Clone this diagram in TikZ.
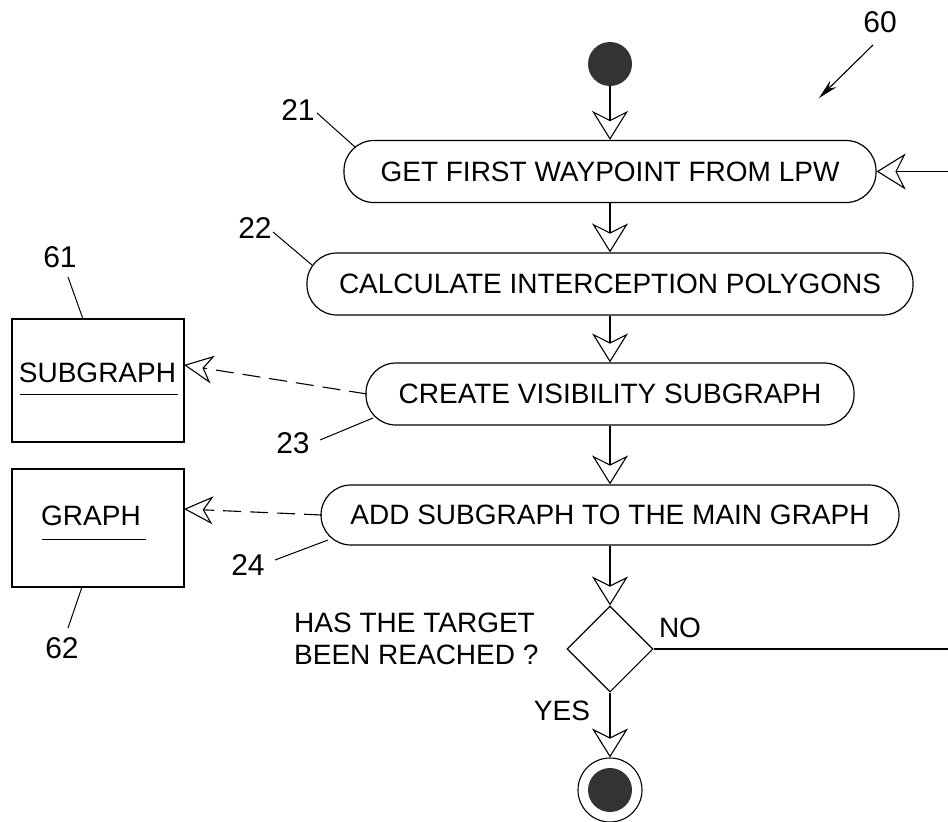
\documentclass[tikz,border=0pt]{standalone}
\usepackage{fontspec}
\setmainfont{Liberation Sans}
\usetikzlibrary{arrows.meta,shapes.geometric,calc}
\begin{document}
\begin{tikzpicture}[x=1pt,y=-1pt,
  every node/.style={font=\fontsize{28}{32}\selectfont, inner sep=0pt},
  pill/.style={draw, line width=1.2pt, rounded corners=30pt, minimum height=62pt},
  flow/.style={line width=1.1pt, -{Stealth[open, length=29pt, width=36pt, inset=9pt, line width=1.1pt]}},
  depend/.style={line width=1.1pt, dash pattern=on 18pt off 9pt, -{Stealth[open, length=29pt, width=28pt, inset=9pt, line width=1.1pt]}},
  plain/.style={line width=1.1pt},
  lead/.style={line width=1pt},
  store/.style={draw, line width=1.1pt, minimum width=172pt},
  refnum/.style={font=\fontsize{30}{32}\selectfont},
  dot/.style={circle, fill=black!80, minimum size=44pt}
]
\useasboundingbox (0,0) rectangle (948,822);

% flow nodes
\node[dot] (start) at (610,64) {};
\node[pill, minimum width=532pt] (b21) at (610,171.5) {GET FIRST WAYPOINT FROM LPW};
\node[pill, minimum width=606pt] (b22) at (610,284) {CALCULATE INTERCEPTION POLYGONS};
\node[pill, minimum width=488pt] (b23) at (610,394) {CREATE VISIBILITY SUBGRAPH};
\node[pill, minimum width=578pt, minimum height=60pt] (b24) at (610,515) {ADD SUBGRAPH TO THE MAIN GRAPH};
\node[diamond, draw, line width=1.1pt, minimum width=86pt, minimum height=86pt, aspect=1] (dec) at (610,649) {};
\node[circle, draw, line width=1.1pt, minimum size=64pt] (stop) at (610,790) {};
\node[dot] (stopin) at (610,790) {};

% stores
\node[store, minimum height=123pt] (s61) at (98,380.5) {};
\node[store, minimum height=118pt] (s62) at (98,528) {};
\node (t61) at (97.5,373) {SUBGRAPH};
\node (t62) at (91,516) {GRAPH};
\coordinate (u61a) at (20,394);
\coordinate (u61b) at (178,394);
\coordinate (u62a) at (42,539);
\coordinate (u62b) at (146,539);
\draw[lead] (u61a) -- (u61b);
\draw[lead] (u62a) -- (u62b);

% decision texts
\node[anchor=west, align=left] (q) at (294,639) {HAS THE TARGET\\BEEN REACHED ?};
\node (no) at (680,628) {NO};
\node (yes) at (562,711) {YES};

% connectors
\draw[flow] (start) -- (b21);
\draw[flow] (b21) -- (b22);
\draw[flow] (b22) -- (b23);
\draw[flow] (b23) -- (b24);
\draw[flow] (b24) -- (dec);
\draw[flow] (dec) -- (stop);
\coordinate (noend) at (948,649);
\coordinate (loopin) at (948,171.5);
\draw[plain] (dec.east) -- (noend);
\draw[flow] (loopin) -- (b21.east);

\coordinate (h61) at (184,365);
\coordinate (h62) at (184,509);
\coordinate (f23) at (367,394);
\coordinate (f24) at (322,515);
\draw[depend] (f23) -- (h61);
\draw[depend] (f24) -- (h62);

% reference numerals
\node[refnum] (n60) at (880,22) {60};
\coordinate (a60s) at (873,45);
\coordinate (a60e) at (819,98);
\draw[line width=1.1pt, -{Stealth[length=20pt, width=9pt]}] (a60s) -- (a60e);

\node[refnum] (n21) at (298,110) {21};
\coordinate (l21) at (355,147);
\draw[lead] (317,113) -- (l21);

\node[refnum] (n22) at (255,228) {22};
\coordinate (l22) at (312,265);
\draw[lead] (273,232) -- (l22);

\node[refnum] (n23) at (293,443) {23};
\coordinate (l23) at (373,418);
\draw[lead] (320,440) -- (l23);

\node[refnum] (n24) at (248,565) {24};
\coordinate (l24) at (328,540);
\draw[lead] (275,560) -- (l24);

\node[refnum] (n61) at (60,257) {61};
\coordinate (l61) at (83,319);
\draw[lead] (68,277) -- (l61);

\node[refnum] (n62) at (62,648) {62};
\coordinate (l62) at (82,587);
\draw[lead] (l62) -- (68,628);
\end{tikzpicture}
\end{document}
